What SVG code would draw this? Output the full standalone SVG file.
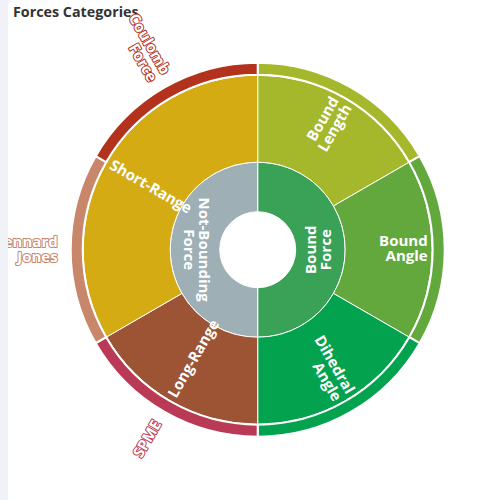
<svg xmlns="http://www.w3.org/2000/svg" width="500" height="500" viewBox="0 0 500 500">
<defs>
<style>
.sec{stroke:#fff;stroke-width:1}
.out{stroke:#fff;stroke-width:2}
.lbl{font-family:"Open Sans","Liberation Sans",sans-serif;font-weight:bold;font-size:15px;fill:#fff}
.olbl{font-family:"Open Sans","Liberation Sans",sans-serif;font-weight:bold;font-size:15px;fill:#fff;stroke-width:2;paint-order:stroke;stroke-linejoin:round}
.title{font-family:"Open Sans","Liberation Sans",sans-serif;font-weight:bold;font-size:14.3px;fill:#333}
</style>
<clipPath id="card"><rect x="8" y="0" width="492" height="500"/></clipPath>
</defs>
<rect x="0" y="0" width="500" height="500" fill="#f1f2f7"/>
<rect x="8" y="0" width="500" height="510" rx="6" fill="#fff"/>
<text class="title" x="13" y="17">Forces Categories</text>
<g clip-path="url(#card)">
<g transform="translate(257.7,249.7)">
<g id="connectors"></g>
<g id="bound-force">
<path class="sec" fill="#3aa257" d="M0,-87.5 A87.5,87.5 0 0 1 0,87.5 L0,38 A38,38 0 0 0 0,-38 Z"/>
<text class="lbl" text-anchor="middle" transform="translate(62.5,0) rotate(-90)"><tspan x="0" y="-4">Bound</tspan><tspan x="0" y="11">Force</tspan></text>
</g>
<g id="not-bounding-force">
<path class="sec" fill="#9eb0b6" d="M0,87.5 A87.5,87.5 0 0 1 0,-87.5 L0,-38 A38,38 0 0 0 0,38 Z"/>
<text class="lbl" text-anchor="middle" transform="translate(-62.5,0) rotate(90)"><tspan x="0" y="-4">Not-Bounding</tspan><tspan x="0" y="11">Force</tspan></text>
</g>
<g id="bound-length">
<path class="sec" fill="#a5b82b" d="M0,-174.5 A174.5,174.5 0 0 1 151.12,-87.25 L75.78,-43.75 A87.5,87.5 0 0 0 0,-87.5 Z"/>
<path class="out" fill="#a5b82b" d="M0,-187 A187,187 0 0 1 161.95,-93.5 L151.55,-87.5 A175,175 0 0 0 0,-175 Z"/>
<text class="lbl" text-anchor="end" transform="translate(85,-147.2) rotate(-60)"><tspan x="0" y="-4">Bound</tspan><tspan x="0" y="11">Length</tspan></text>
</g>
<g id="bound-angle">
<path class="sec" fill="#62a83c" d="M151.12,-87.25 A174.5,174.5 0 0 1 151.12,87.25 L75.78,43.75 A87.5,87.5 0 0 0 75.78,-43.75 Z"/>
<path class="out" fill="#62a83c" d="M161.95,-93.5 A187,187 0 0 1 161.95,93.5 L151.55,87.5 A175,175 0 0 0 151.55,-87.5 Z"/>
<text class="lbl" text-anchor="end" transform="translate(170,0)"><tspan x="0" y="-4">Bound</tspan><tspan x="0" y="11">Angle</tspan></text>
</g>
<g id="dihedral-angle">
<path class="sec" fill="#03a24e" d="M151.12,87.25 A174.5,174.5 0 0 1 0,174.5 L0,87.5 A87.5,87.5 0 0 0 75.78,43.75 Z"/>
<path class="out" fill="#03a24e" d="M161.95,93.5 A187,187 0 0 1 0,187 L0,175 A175,175 0 0 0 151.55,87.5 Z"/>
<text class="lbl" text-anchor="end" transform="translate(85,147.2) rotate(60)"><tspan x="0" y="-4">Dihedral</tspan><tspan x="0" y="11">Angle</tspan></text>
</g>
<g id="long-range">
<path class="sec" fill="#9c5434" d="M0,174.5 A174.5,174.5 0 0 1 -151.12,87.25 L-75.78,43.75 A87.5,87.5 0 0 0 0,87.5 Z"/>
<text class="lbl" text-anchor="start" transform="translate(-85,147.2) rotate(-60)" y="4">Long-Range</text>
</g>
<g id="short-range">
<path class="sec" fill="#d5ab13" d="M-151.12,87.25 A174.5,174.5 0 0 1 0,-174.5 L0,-87.5 A87.5,87.5 0 0 0 -75.78,43.75 Z"/>
<text class="lbl" text-anchor="start" transform="translate(-147.2,-85) rotate(30)" y="4">Short-Range</text>
</g>
<g id="spme">
<path class="out" fill="#ba3a55" d="M0,187 A187,187 0 0 1 -161.95,93.5 L-151.55,87.5 A175,175 0 0 0 0,175 Z"/>
<text class="olbl" stroke="#ba3a55" text-anchor="end" transform="translate(-99.5,172.3) rotate(-60)" y="4">SPME</text>
</g>
<g id="lennard-jones">
<path class="out" fill="#c8866a" d="M-161.95,93.5 A187,187 0 0 1 -161.95,-93.5 L-151.55,-87.5 A175,175 0 0 0 -151.55,87.5 Z"/>
<text class="olbl" stroke="#c8866a" text-anchor="end" transform="translate(-200,0)"><tspan x="0" y="-3">Lennard</tspan><tspan x="0" y="12.5">Jones</tspan></text>
</g>
<g id="coulomb-force">
<path class="out" fill="#b2321e" d="M-161.95,-93.5 A187,187 0 0 1 0,-187 L0,-175 A175,175 0 0 0 -151.55,-87.5 Z"/>
<text class="olbl" stroke="#b2321e" text-anchor="end" transform="translate(-99.5,-172.3) rotate(60)"><tspan x="0" y="-4">Coulomb</tspan><tspan x="0" y="11">Force</tspan></text>
</g>
</g>
</g>
</svg>
